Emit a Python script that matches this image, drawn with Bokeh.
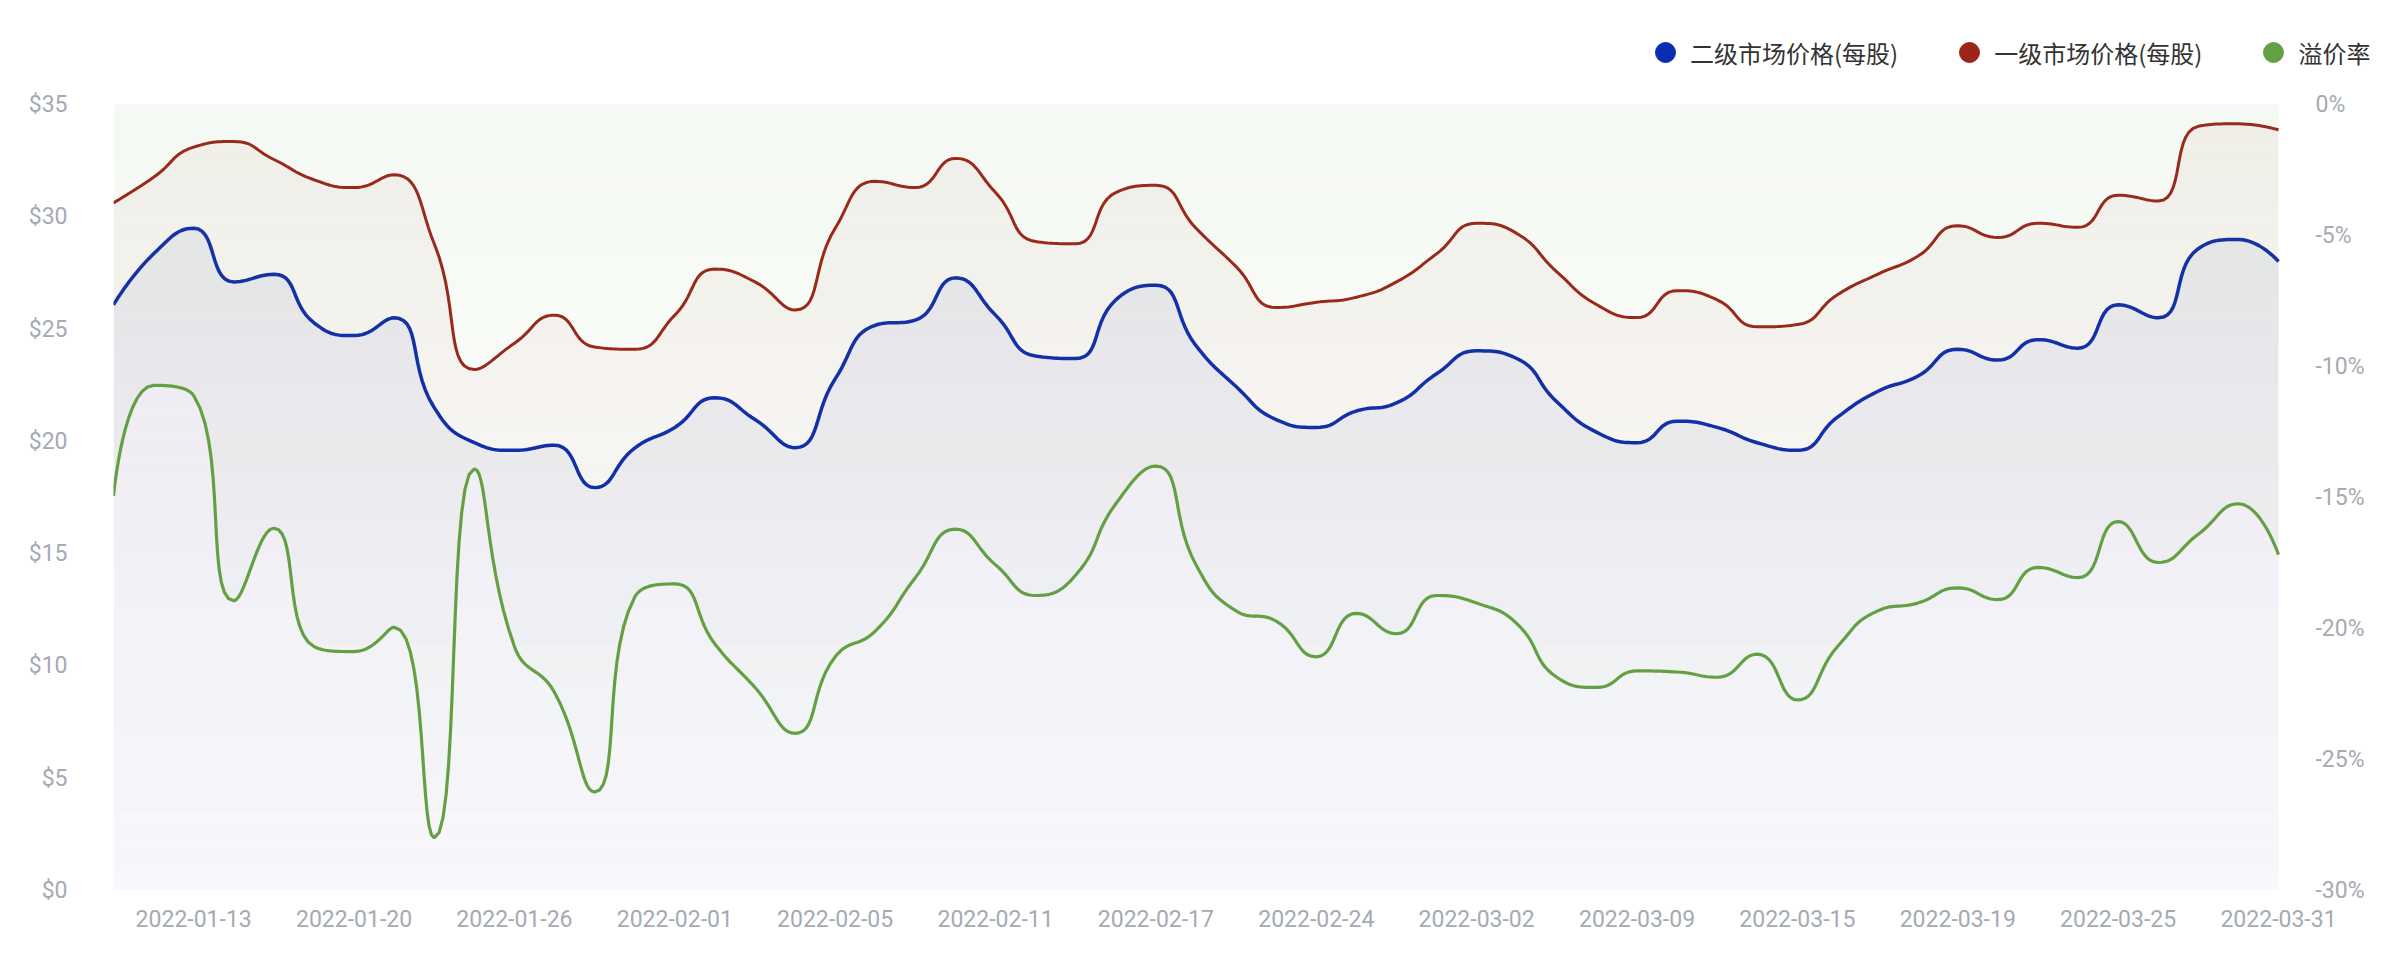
import math
import numpy as np
from bokeh.plotting import figure
from bokeh.models import (Range1d, LinearAxis, FixedTicker, PrintfTickFormatter,
                          Legend, LegendItem, ColumnDataSource)
from bokeh.embed import file_html
from bokeh.resources import INLINE

# ---------------- data ----------------
dates = ["2022-01-10", "2022-01-12", "2022-01-13", "2022-01-14", "2022-01-17", "2022-01-18",
         "2022-01-20", "2022-01-21", "2022-01-24", "2022-01-25", "2022-01-26", "2022-01-27",
         "2022-01-28", "2022-01-31", "2022-02-01", "2022-02-02", "2022-02-03", "2022-02-04",
         "2022-02-05", "2022-02-07", "2022-02-08", "2022-02-10", "2022-02-11", "2022-02-14",
         "2022-02-15", "2022-02-16", "2022-02-17", "2022-02-18", "2022-02-21", "2022-02-22",
         "2022-02-24", "2022-02-25", "2022-02-28", "2022-03-01", "2022-03-02", "2022-03-03",
         "2022-03-04", "2022-03-07", "2022-03-09", "2022-03-10", "2022-03-11", "2022-03-14",
         "2022-03-15", "2022-03-16", "2022-03-17", "2022-03-18", "2022-03-19", "2022-03-21",
         "2022-03-22", "2022-03-23", "2022-03-25", "2022-03-28", "2022-03-29", "2022-03-30",
         "2022-03-31"]

label_dates = ["2022-01-13", "2022-01-20", "2022-01-26", "2022-02-01", "2022-02-05",
               "2022-02-11", "2022-02-17", "2022-02-24", "2022-03-02", "2022-03-09",
               "2022-03-15", "2022-03-19", "2022-03-25", "2022-03-31"]

secondary_price = [26.08, 28.35, 29.49, 27.10, 27.44, 25.28, 24.71, 25.50, 21.50, 19.94,
                   19.60, 19.83, 17.94, 19.70, 20.62, 21.94, 20.97, 19.72, 22.78, 25.17,
                   25.40, 27.28, 25.62, 23.80, 23.69, 26.30, 26.95, 24.26, 22.44, 20.97,
                   20.62, 21.35, 21.71, 23.01, 24.03, 23.69, 21.76, 20.40, 19.94, 20.90,
                   20.62, 19.94, 19.60, 21.08, 22.22, 22.90, 24.10, 23.62, 24.53, 24.15,
                   26.08, 25.50, 28.58, 28.99, 28.01]

primary_price = [30.62, 31.76, 33.10, 33.35, 32.55, 31.65, 31.30, 31.87, 28.80, 23.20,
                 24.37, 25.62, 24.20, 24.10, 25.62, 27.67, 27.10, 25.85, 29.49, 31.58,
                 31.30, 32.60, 31.08, 28.90, 28.80, 31.08, 31.40, 29.49, 27.78, 25.96,
                 26.19, 26.42, 27.10, 28.35, 29.71, 29.26, 27.55, 26.08, 25.51, 26.71,
                 26.30, 25.10, 25.20, 26.53, 27.44, 28.24, 29.60, 29.08, 29.71, 29.53,
                 30.96, 30.70, 34.03, 34.14, 33.87]

premium_rate = [-14.94, -10.72, -11.11, -18.94, -16.17, -20.69, -20.88, -19.95, -27.99, -13.91,
                -20.69, -22.44, -26.24, -18.80, -18.30, -20.59, -22.25, -24.00, -21.08, -20.10,
                -18.06, -16.21, -17.57, -18.74, -17.96, -15.24, -13.80, -17.57, -19.33, -19.72,
                -21.08, -19.42, -20.20, -18.74, -19.03, -19.81, -21.86, -22.25, -21.62, -21.66,
                -21.86, -20.98, -22.73, -20.69, -19.33, -19.03, -18.45, -18.90, -17.67, -18.06,
                -15.92, -17.48, -16.40, -15.24, -17.18]

series_names = ["二级市场价格(每股)", "一级市场价格(每股)", "溢价率"]
left_ticks = [0, 5, 10, 15, 20, 25, 30, 35]
right_ticks = [-30, -25, -20, -15, -10, -5, 0]
LEFT_MAX, RIGHT_MIN = 35.0, -30.0

# ---------------- layout ----------------
# The frame is extended to the top and right edge of the figure so that the
# legend (which sits above / right of the data area) is not clipped.
W, H = 2382, 958
ML, MB = 113, 68
DATA_TOP = 104          # pixel row of $35 / 0%
DATA_RIGHT = 2278       # pixel column of the last category
FW = W - ML             # frame width (right border 0)
FH = H - MB             # frame height (top border 0)
n = len(dates)
SX = (DATA_RIGHT - ML) / (n - 1)
DH = FH - DATA_TOP
SY_L = DH / LEFT_MAX
SY_R = DH / (0 - RIGHT_MIN)
x_end = FW / SX
y_top_l = LEFT_MAX + DATA_TOP / SY_L
y_top_r = 0 + DATA_TOP / SY_R

BLUE = "#0b2db1"
RED = "#9c2419"
GREEN = "#63a044"
LABEL = "#a5aab4"


def echarts_smooth(yv, sx, sy, smooth=0.5, steps=14):
    P = [(i * sx, v * sy) for i, v in enumerate(yv)]
    ox, oy = [P[0][0]], [P[0][1]]
    cp0 = P[0]
    N = len(P)
    t = np.linspace(0, 1, steps + 1)[1:]
    for idx in range(1, N):
        x, y = P[idx]
        px, py = P[idx - 1]
        if idx == N - 1:
            cp1 = (x, y)
            ncp0 = (x, y)
        else:
            nx, ny = P[idx + 1]
            vx, vy = nx - px, ny - py
            lp = math.hypot(x - px, y - py)
            ln = math.hypot(nx - x, ny - y)
            r = ln / (ln + lp)
            ncx = x + vx * smooth * r
            ncy = y + vy * smooth * r
            ncx = max(min(ncx, max(nx, x)), min(nx, x))
            ncy = max(min(ncy, max(ny, y)), min(ny, y))
            vx, vy = ncx - x, ncy - y
            c1x = x - vx * lp / ln
            c1y = y - vy * lp / ln
            c1x = max(min(c1x, max(px, x)), min(px, x))
            c1y = max(min(c1y, max(py, y)), min(py, y))
            vx, vy = x - c1x, y - c1y
            ncx = x + vx * ln / lp
            ncy = y + vy * ln / lp
            cp1 = (c1x, c1y)
            ncp0 = (ncx, ncy)
        bx = (1 - t) ** 3 * px + 3 * (1 - t) ** 2 * t * cp0[0] + 3 * (1 - t) * t ** 2 * cp1[0] + t ** 3 * x
        by = (1 - t) ** 3 * py + 3 * (1 - t) ** 2 * t * cp0[1] + 3 * (1 - t) * t ** 2 * cp1[1] + t ** 3 * y
        ox.extend(bx.tolist())
        oy.extend(by.tolist())
        cp0 = ncp0
    return np.array(ox) / sx, np.array(oy) / sy


p = figure(width=W, height=H, output_backend="svg", toolbar_location=None,
           x_range=Range1d(0, x_end), y_range=Range1d(0, y_top_l),
           min_border_left=ML, min_border_right=0, min_border_top=0, min_border_bottom=MB,
           x_axis_type=None, y_axis_type=None)
p.extra_y_ranges = {"pct": Range1d(RIGHT_MIN, y_top_r)}
p.outline_line_color = None
p.xgrid.visible = False
p.ygrid.visible = False
p.background_fill_color = "white"
p.border_fill_color = "white"

bx_, by_ = echarts_smooth(secondary_price, SX, SY_L)
rx_, ry_ = echarts_smooth(primary_price, SX, SY_L)
gx_, gy_ = echarts_smooth(premium_rate, SX, SY_R)

BAND = 12  # px per gradient band (integer pixel boundaries)
NB = int(math.ceil(DH / BAND))


def grad_area_down(x, yline, color, a_top, a_bot):
    ymax = float(np.max(yline))
    ymin = float(np.min(yline))
    for j in range(NB):
        hi = LEFT_MAX - j * BAND / SY_L
        lo = max(LEFT_MAX - (j + 1) * BAND / SY_L, 0.0)
        if lo >= ymax:
            continue
        mid = 0.5 * (hi + lo)
        a = a_bot + (a_top - a_bot) * min(mid / ymax, 1.0)
        if hi <= ymin:
            p.varea(x=[0, n - 1], y1=[lo, lo], y2=[hi, hi], fill_color=color, fill_alpha=a)
        else:
            p.varea(x=x, y1=np.minimum(yline, lo), y2=np.minimum(yline, hi),
                    fill_color=color, fill_alpha=a)


def grad_area_up(x, yline, color, a_top):
    pmin = float(np.min(yline))
    pmax = float(np.max(yline))
    for j in range(NB):
        hi = 0.0 - j * BAND / SY_R
        lo = max(0.0 - (j + 1) * BAND / SY_R, RIGHT_MIN)
        if hi <= pmin:
            continue
        mid = 0.5 * (hi + lo)
        a = a_top * max(mid - pmin, 0.0) / (0.0 - pmin)
        if lo >= pmax:
            p.varea(x=[0, n - 1], y1=[lo, lo], y2=[hi, hi], fill_color=color, fill_alpha=a,
                    y_range_name="pct")
        else:
            p.varea(x=x, y1=np.maximum(yline, lo), y2=np.maximum(yline, hi),
                    fill_color=color, fill_alpha=a, y_range_name="pct")


# blue series
grad_area_down(bx_, by_, BLUE, 0.06, 0.03)
p.line(bx_, by_, line_color=BLUE, line_width=3.5)
# red series
grad_area_down(rx_, ry_, RED, 0.05, 0.005)
p.line(rx_, ry_, line_color=RED, line_width=3.0)
# green series (area up to 0%)
grad_area_up(gx_, gy_, GREEN, 0.066)
p.line(gx_, gy_, line_color=GREEN, line_width=3.2, y_range_name="pct")


# ---------------- axes ----------------
def style_axis(ax):
    ax.axis_line_color = None
    ax.major_tick_line_color = None
    ax.minor_tick_line_color = None
    ax.major_tick_out = 0
    ax.major_tick_in = 0
    ax.minor_tick_out = 0
    ax.major_label_text_color = LABEL
    ax.major_label_text_font = "Roboto"
    ax.major_label_text_font_size = "23px"


xticks = [dates.index(d) for d in label_dates]
xax = LinearAxis(ticker=FixedTicker(ticks=xticks),
                 major_label_overrides={i: dates[i] for i in xticks})
style_axis(xax)
xax.major_label_standoff = 19
p.add_layout(xax, "below")

lax = LinearAxis(ticker=FixedTicker(ticks=left_ticks), formatter=PrintfTickFormatter(format="$%d"))
style_axis(lax)
lax.major_label_standoff = 46
p.add_layout(lax, "left")

rax = LinearAxis(y_range_name="pct", ticker=FixedTicker(ticks=right_ticks),
                 formatter=PrintfTickFormatter(format="%d%%"))
style_axis(rax)
rax.major_label_standoff = (DATA_RIGHT + 37) - W   # labels start 37px right of the data area
p.add_layout(rax, "right")

# ---------------- legend ----------------
items = []
for name, col in zip(series_names, [BLUE, RED, GREEN]):
    src = ColumnDataSource(dict(x=[float("nan")], y=[float("nan")]))
    r = p.scatter("x", "y", source=src, marker="circle", size=20, fill_color=col, line_color=col)
    items.append(LegendItem(label=name, renderers=[r]))

legend = Legend(items=items, orientation="horizontal",
                location=(1640 - ML, FH - 77), glyph_width=50, glyph_height=50,
                label_standoff=0, spacing=46, padding=0, margin=0,
                border_line_color=None, background_fill_alpha=0,
                label_text_font="Noto Sans CJK SC", label_text_font_size="24px",
                label_text_color="#333333")
p.add_layout(legend)

open("out.html", "w").write(file_html(p, INLINE))
